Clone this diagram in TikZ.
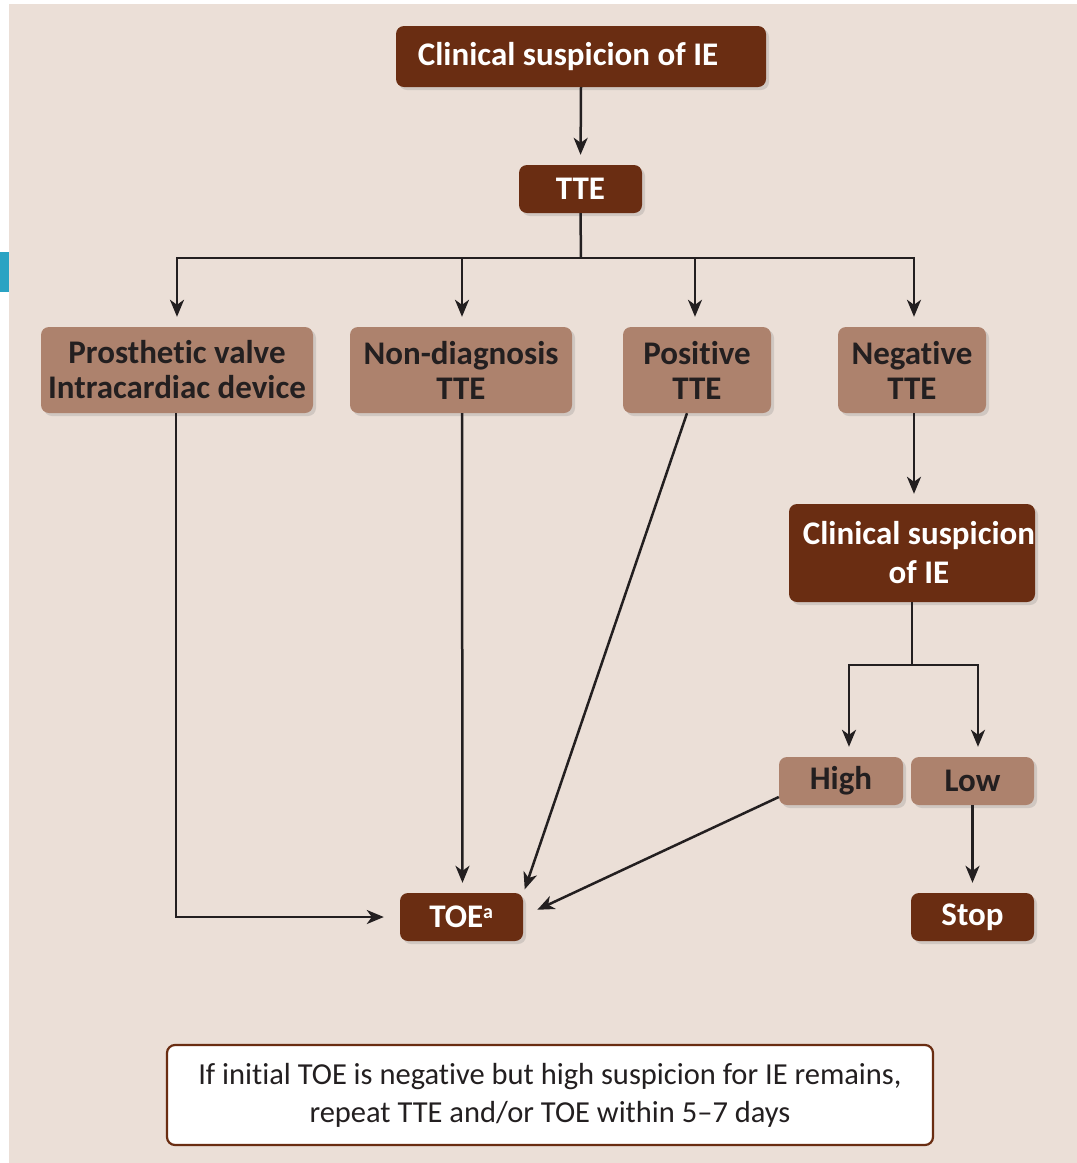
\documentclass[tikz,border=0pt]{standalone}
\usepackage{fontspec}
\setmainfont[Ligatures={NoCommon}]{Carlito}
\usetikzlibrary{arrows.meta,shadows,calc}
\definecolor{bgc}{HTML}{EBDFD7}
\definecolor{darkb}{HTML}{6A2D12}
\definecolor{lightb}{HTML}{AD826D}
\definecolor{inkc}{HTML}{231F20}
\definecolor{cyanc}{HTML}{2AA3C3}
\tikzset{
  boxbase/.style={rounded corners=8pt, inner sep=0pt, align=center,
    drop shadow={opacity=0.25, shadow xshift=3pt, shadow yshift=-3pt}},
  darkbox/.style={boxbase, fill=darkb, text=white,
    font=\bfseries\fontsize{33}{39}\selectfont},
  lightbox/.style={boxbase, fill=lightb, text=inkc,
    font=\bfseries\fontsize{33}{35}\selectfont},
  notebox/.style={rounded corners=8pt, inner sep=0pt, align=center, fill=white,
    draw=darkb, line width=2.2pt, text=inkc, font=\fontsize{30.5}{38}\selectfont},
  conn/.style={draw=inkc, line width=2.5pt},
  arr/.style={conn, -{Stealth[length=17pt,width=14pt,inset=5pt]}, shorten >=10pt},
}
\begin{document}
\begin{tikzpicture}[x=1pt,y=-1pt]
\useasboundingbox (0,0) rectangle (1077,1163);
\fill[white] (0,0) rectangle (1077,1163);
\fill[bgc] (9,4) rectangle (1077,1163);
\fill[cyanc] (0,252) rectangle (9,292);

\node[darkbox, minimum width=370pt, minimum height=61pt] (top) at (581,56.5) {\hspace*{-26pt}Clinical suspicion of IE};
\node[darkbox, minimum width=123pt, minimum height=48pt] (tte) at (580.5,189) {TTE};
\node[lightbox, minimum width=272pt, minimum height=86pt] (pv) at (177,370) {Prosthetic valve\\Intracardiac device};
\node[lightbox, minimum width=222pt, minimum height=86pt] (nd) at (461,370) {Non-diagnosis\\TTE};
\node[lightbox, minimum width=148pt, minimum height=86pt] (pos) at (697,370) {Positive\\TTE};
\node[lightbox, minimum width=148pt, minimum height=86pt] (neg) at (912,370) {Negative\\TTE};
\node[darkbox, minimum width=246pt, minimum height=98pt] (cs) at (912,553) {};
\node[text=white, font=\bfseries\fontsize{33}{39}\selectfont, align=center, inner sep=0pt] (cstext) at (919,553) {Clinical suspicion\\of IE};
\node[lightbox, minimum width=124pt, minimum height=48pt] (high) at (841,781) {High};
\node[lightbox, minimum width=123pt, minimum height=48pt] (low) at (972.5,781) {Low};
\node[darkbox, minimum width=123pt, minimum height=48pt] (stop) at (972.5,917) {Stop};
\node[darkbox, minimum width=123pt, minimum height=48pt] (toe) at (461.5,917) {TOE\textsuperscript{\fontsize{20}{20}\selectfont a}};
\node[notebox, minimum width=766pt, minimum height=100pt] (note) at (550,1095) {If initial TOE is negative but high suspicion for IE remains,\\repeat TTE and/or TOE within 5--7 days};

\coordinate (j1) at (581,258);
\coordinate (j2) at (912,665);

\draw[arr] (top.south) -- (tte.north);
\draw[conn] (tte.south) -- (j1);
\draw[arr] (j1) -| (pv.north);
\draw[arr] (j1) -| ($(nd.north)+(1,0)$);
\draw[arr] (j1) -| ($(pos.north)+(-2,0)$);
\draw[arr] (j1) -| ($(neg.north)+(2,0)$);
\draw[arr] ($(neg.south)+(2,0)$) -- ($(cs.north)+(2,0)$);
\draw[conn] (cs.south) -- (j2);
\draw[arr] (j2) -| ($(high.north)+(8,0)$);
\draw[arr] (j2) -| ($(low.north)+(5.5,0)$);
\draw[arr] (low.south) -- (stop.north);
\draw[arr, shorten >=16pt] ($(pv.south)+(-1,0)$) |- (toe.west);
\draw[arr] ($(nd.south)+(1,0)$) -- ($(toe.north)+(1,0)$);
\draw[arr] ($(pos.south)+(-10,0)$) -- ($(toe.north)+(60,6)$);
\draw[arr] ($(high.west)+(0,16)$) -- ($(toe.east)+(5,-3)$);
\end{tikzpicture}
\end{document}
